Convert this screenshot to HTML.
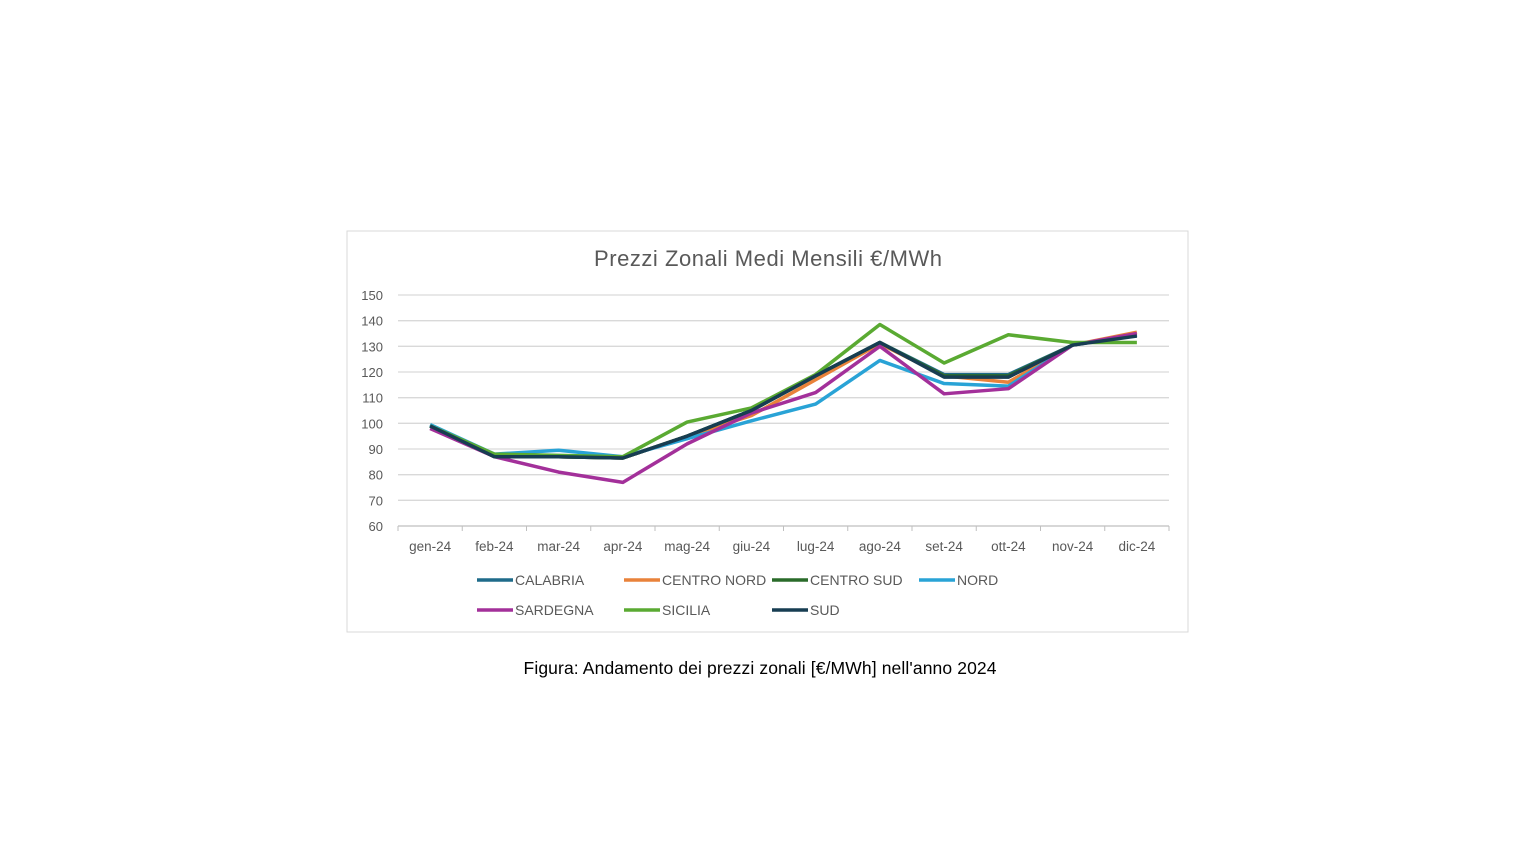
<!DOCTYPE html>
<html><head><meta charset="utf-8"><style>
body{margin:0;background:#fff;width:1536px;height:864px;overflow:hidden;font-family:"Liberation Sans",sans-serif}
</style></head><body>
<svg width="1536" height="864" style="position:absolute;left:0;top:0">
<rect x="347" y="231" width="841" height="401" fill="#fff" stroke="#d9d9d9"/>
<text x="768" y="266" text-anchor="middle" font-size="22" fill="#595959" textLength="348">Prezzi Zonali Medi Mensili €/MWh</text>
<g id="grid"></g><g id="series"></g><g id="legend"></g>
<text x="760" y="674" text-anchor="middle" font-size="17.5" fill="#000" textLength="473">Figura: Andamento dei prezzi zonali [€/MWh] nell'anno 2024</text>
</svg>
<script>
const months=["gen-24","feb-24","mar-24","apr-24","mag-24","giu-24","lug-24","ago-24","set-24","ott-24","nov-24","dic-24"];
const yTicks=[60,70,80,90,100,110,120,130,140,150];
const seriesNames=["CALABRIA","CENTRO NORD","CENTRO SUD","NORD","SARDEGNA","SICILIA","SUD"];
const seriesColors=["#1f6b8a","#e9823a","#2a6b2a","#29a3d6","#a3309a","#5aaa32","#173d52"];
const calabria=[99,87,87,86.5,95,105,118.5,131.5,119,119,130.5,134.5];
const centroNord=[99,87,87,86.5,95,103,117,131,118.5,116,130.5,135.5];
const centroSud=[99,87,87,86.5,95,105,118.5,131.5,118.5,118.5,130.5,134.5];
const nord=[99.5,88,89.5,87,94,101,107.5,124.5,115.5,114.5,130.5,134.5];
const sardegna=[98,87,81,77,92,104,112,130,111.5,113.5,130.5,135];
const sicilia=[99,88,87.5,87,100.5,106,119,138.5,123.5,134.5,131.5,131.5];
const sud=[99,87,87,86.5,95,105,118.5,131.5,118,118,130.5,134];
const allSeries=[calabria,centroNord,centroSud,nord,sardegna,sicilia,sud];
const NS="http://www.w3.org/2000/svg";
const x0=398,x1=1169,yTop=295,yBot=526;
const step=(x1-x0)/months.length;
const X=i=>x0+step*(i+0.5);
const Y=v=>yBot-(v-60)/(150-60)*(yBot-yTop);
function mk(t,a,p){const e=document.createElementNS(NS,t);for(const k in a)e.setAttribute(k,a[k]);p.appendChild(e);return e;}
const g=document.getElementById('grid');
yTicks.forEach(t=>{
 const l=mk('line',{x1:x0,x2:x1,y1:Y(t),y2:Y(t),stroke:t===60?'#bfbfbf':'#d9d9d9','stroke-width':1.3},g);
 
 
 const tx=mk('text',{x:383,y:Y(t)+5,'text-anchor':'end','font-size':13,fill:'#595959'},g);tx.textContent=t;
 
 
});
for(let i=0;i<=months.length;i++){mk('line',{x1:x0+step*i,x2:x0+step*i,y1:yBot,y2:yBot+5,stroke:'#bfbfbf'},g);}
months.forEach((m,i)=>{
 const tx=mk('text',{x:X(i),y:551,'text-anchor':'middle','font-size':13.5,fill:'#595959'},g);tx.textContent=m;
 
 
});
const s=document.getElementById('series');
allSeries.forEach((d,k)=>{
 const p=mk('polyline',{points:d.map((v,i)=>X(i)+','+Y(v)).join(' '),fill:'none',stroke:seriesColors[k],'stroke-width':3.5,'stroke-linejoin':'round'},s);
 
 
});
const lg=document.getElementById('legend');
const lpos=[[477,580],[624,580],[772,580],[919,580],[477,610],[624,610],[772,610]];
seriesNames.forEach((n,k)=>{
 const[lx,ly]=lpos[k];
 const ln=mk('line',{x1:lx,x2:lx+36,y1:ly,y2:ly,stroke:seriesColors[k],'stroke-width':3.5},lg);
 
 
 const t=mk('text',{x:lx+38,y:ly+5,'font-size':14,fill:'#595959'},lg);t.textContent=n;
 
 
});
</script>
</body></html>
